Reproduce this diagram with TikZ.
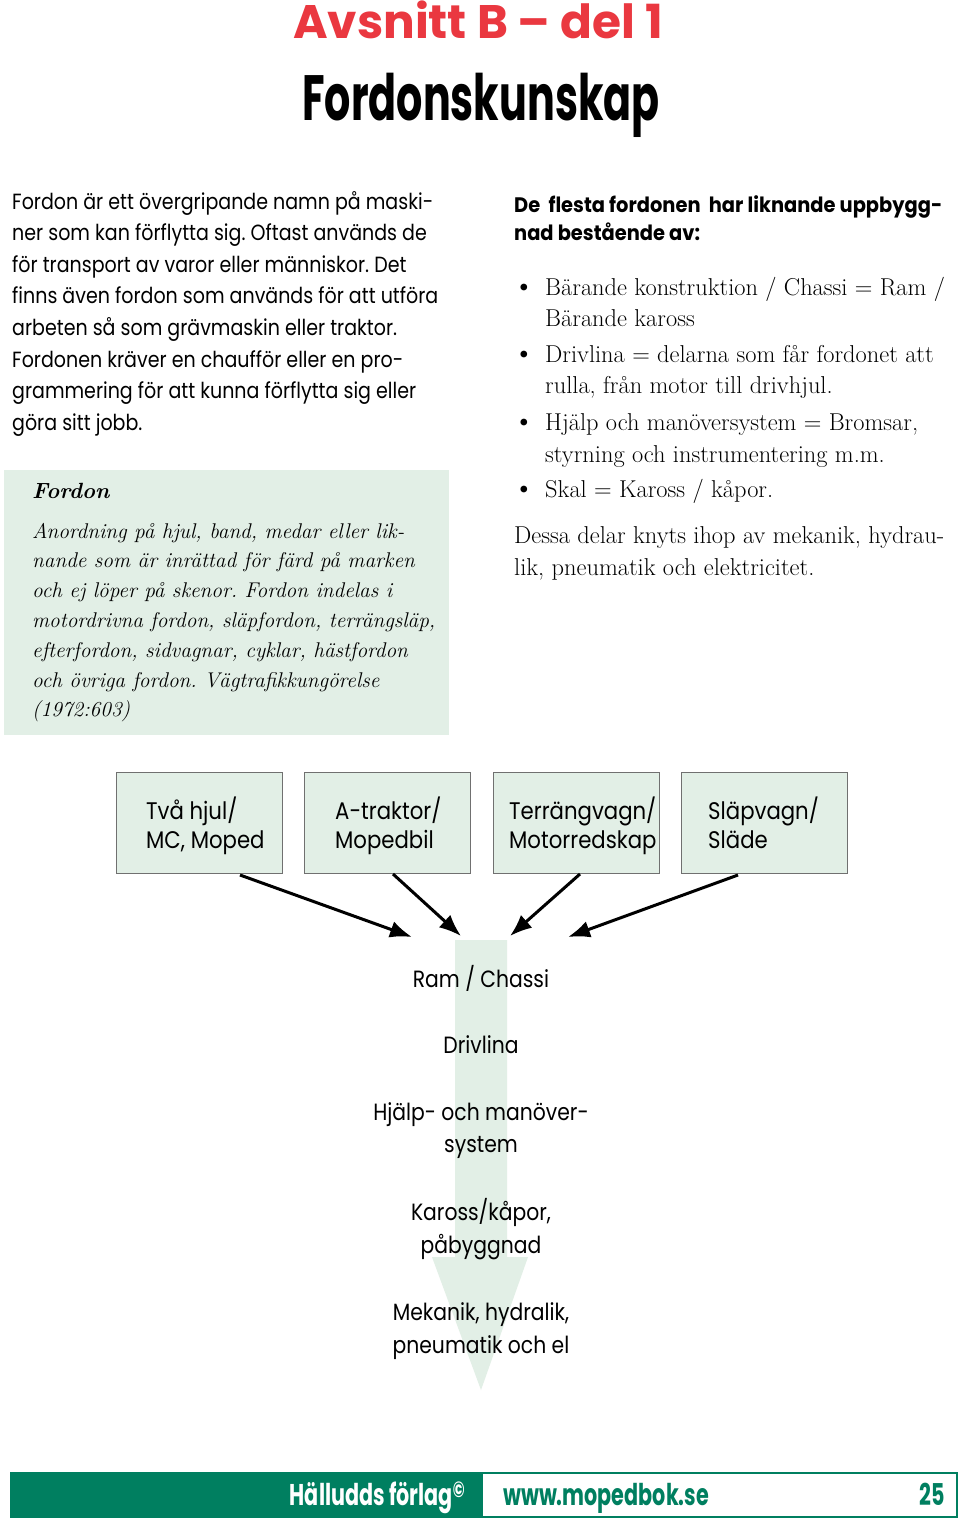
\documentclass[tikz,border=0pt]{standalone}
\usepackage{fontspec}
\usepackage{graphicx}
\usetikzlibrary{arrows.meta}
\newfontfamily\fut[FakeStretch=0.865]{Poppins}
\newfontfamily\futb[FakeStretch=0.885]{Poppins}
\newfontfamily\futw{Poppins}
\newfontfamily\futcond[FakeStretch=0.645]{Poppins}
\newfontfamily\futft[FakeStretch=0.69]{Poppins}
\newfontfamily\futhd[FakeStretch=0.925]{Poppins}
\definecolor{mint}{RGB}{226,239,230}
\definecolor{titlered}{RGB}{234,56,64}
\definecolor{fgreen}{RGB}{0,127,96}
\definecolor{boxgray}{RGB}{112,112,112}
\frenchspacing
\begin{document}
\begin{tikzpicture}[x=1pt,y=-1pt,
  body/.style={anchor=base west, inner sep=0, font=\fut\fontsize{22}{22}\selectfont},
  ital/.style={anchor=base west, inner sep=0, font=\itshape\fontsize{21.3}{21.3}\selectfont},
  serif/.style={anchor=base west, inner sep=0, font=\fontsize{24.4}{24.4}\selectfont},
  headb/.style={anchor=base west, inner sep=0, font=\futhd\bfseries\fontsize{21}{21}\selectfont},
  vbox/.style={draw=boxgray, line width=1pt, fill=mint, minimum width=166pt, minimum height=101pt, inner sep=0},
  boxlbl/.style={anchor=base west, inner sep=0, font=\futb\fontsize{24}{24}\selectfont},
  ctr/.style={anchor=base, inner sep=0, font=\fut\fontsize{23.5}{23.5}\selectfont},
  conn/.style={line width=3pt, -{Latex[length=22pt,width=17pt]}},
  foot/.style={inner sep=0, font=\futft\bfseries\fontsize{30}{30}\selectfont}]
\useasboundingbox (0,0) rectangle (960,1520);
\fill[white] (0,0) rectangle (960,1520);
% titles
\node[anchor=base, inner sep=0, text=titlered, font=\futw\bfseries\fontsize{47}{47}\selectfont] (title) at (478,38) {Avsnitt B – del 1};
\node[anchor=base, inner sep=0, font=\futcond\bfseries\fontsize{64}{64}\selectfont] (subtitle) at (481,120) {Fordonskunskap};
% left body
\foreach \t [count=\i] in {{Fordon är ett övergripande namn på maski-},{ner som kan förflytta sig. Oftast används de},{för transport av varor eller människor. Det},{finns även fordon som används för att utföra},{arbeten så som grävmaskin eller traktor.},{Fordonen kräver en chaufför eller en pro-},{grammering för att kunna förflytta sig eller},{göra sitt jobb.}}
  \node[body] (lb\i) at (12,{209+31.6*(\i-1)}) {\t};
% definition panel
\fill[mint] (4,470) rectangle (449,735);
\node[anchor=base west, inner sep=0, font=\bfseries\itshape\fontsize{22}{22}\selectfont] (defhead) at (32,498) {Fordon};
\foreach \t [count=\i] in {{Anordning på hjul, band, medar eller lik-},{nande som är inrättad för färd på marken},{och ej löper på skenor. Fordon indelas i},{motordrivna fordon, släpfordon, terrängsläp,},{efterfordon, sidvagnar, cyklar, hästfordon},{och övriga fordon. Vägtrafikkungörelse},{(1972:603)}}
  \node[ital] (df\i) at (32,{538+29.8*(\i-1)}) {\t};
% right column
\node[headb] (rh1) at (514,212) {De\ \ flesta fordonen\ \ har liknande uppbygg-};
\node[headb] (rh2) at (514,240) {nad bestående av:};
\foreach \y [count=\i] in {295,362,430,497}
  \node[anchor=base west, inner sep=0, font=\fontsize{30}{30}\selectfont] (bul\i) at (513,\y) {\textbullet};
\node[serif] (r1) at (545,295) {Bärande konstruktion / Chassi = Ram /};
\node[serif] (r2) at (545,326) {Bärande kaross};
\node[serif] (r3) at (545,362) {Drivlina = delarna som får fordonet att};
\node[serif] (r4) at (545,393) {rulla, från motor till drivhjul.};
\node[serif] (r5) at (545,430) {Hjälp och manöversystem = Bromsar,};
\node[serif] (r6) at (545,462) {styrning och instrumentering m.m.};
\node[serif] (r7) at (545,497) {Skal = Kaross / kåpor.};
\node[serif] (r8) at (514,543) {Dessa delar knyts ihop av mekanik, hydrau-};
\node[serif] (r9) at (514,575) {lik, pneumatik och elektricitet.};
% vehicle boxes
\node[vbox] (b1) at (199,822.5) {};
\node[vbox] (b2) at (387,822.5) {};
\node[vbox] (b3) at (576,822.5) {};
\node[vbox] (b4) at (764.5,822.5) {};
\node[boxlbl] (b1a) at (146,819) {Två hjul/};
\node[boxlbl] (b1b) at (146,848) {MC, Moped};
\node[boxlbl] (b2a) at (335,819) {A-traktor/};
\node[boxlbl] (b2b) at (335,848) {Mopedbil};
\node[boxlbl] (b3a) at (509,819) {Terrängvagn/};
\node[boxlbl] (b3b) at (509,848) {Motorredskap};
\node[boxlbl] (b4a) at (708,819) {Släpvagn/};
\node[boxlbl] (b4b) at (708,848) {Släde};
% big arrow
\fill[mint] (455,940) -- (507,940) -- (507,1257) -- (528,1257) -- (481,1390) -- (432,1257) -- (455,1257) -- cycle;
% connectors
\coordinate (s1) at (240,875);
\coordinate (s2) at (393,874);
\coordinate (s3) at (580,874);
\coordinate (s4) at (738,875);
\coordinate (e1) at (412,937);
\coordinate (e2) at (461,936);
\coordinate (e3) at (510,936);
\coordinate (e4) at (568,937);
\draw[conn] (s1) -- (e1);
\draw[conn] (s2) -- (e2);
\draw[conn] (s3) -- (e3);
\draw[conn] (s4) -- (e4);
% centre labels
\node[ctr] (c1) at (481,987) {Ram / Chassi};
\node[ctr] (c2) at (481,1053) {Drivlina};
\node[ctr] (c3) at (481,1120) {Hjälp- och manöver-};
\node[ctr] (c4) at (481,1152) {system};
\node[ctr] (c5) at (481,1220) {Kaross/kåpor,};
\node[ctr] (c6) at (481,1253) {påbyggnad};
\node[ctr] (c7) at (481,1320) {Mekanik, hydralik,};
\node[ctr] (c8) at (481,1353) {pneumatik och el};
% footer
\fill[fgreen] (10,1472) rectangle (482,1518);
\draw[fgreen, line width=1.5pt] (482,1473) rectangle (957,1517);
\node[foot, anchor=base east, text=white] (pub) at (465,1505) {Hälludds förlag\raisebox{8pt}{\fontsize{22}{22}\selectfont ©}};
\node[foot, anchor=base west, text=fgreen] (web) at (503,1505) {www.mopedbok.se};
\node[foot, anchor=base east, text=fgreen] (page) at (945,1505) {25};
\end{tikzpicture}
\end{document}
